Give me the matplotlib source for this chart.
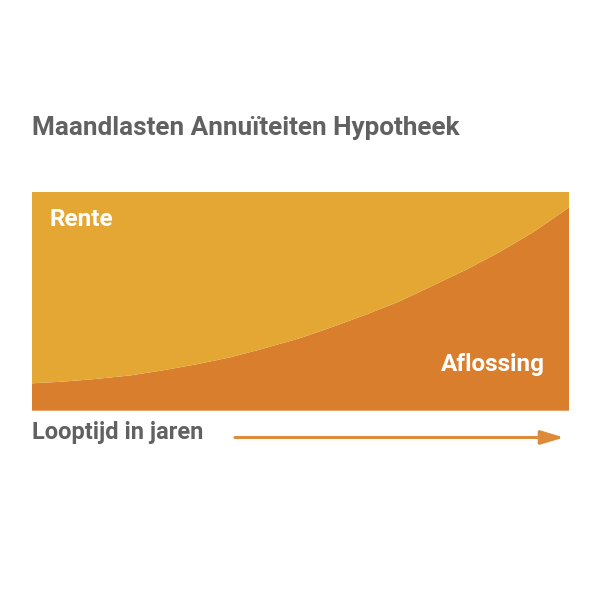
import matplotlib
matplotlib.use("Agg")
import matplotlib.pyplot as plt

jaren = [0, 1.8, 3.6, 5.5, 7.3, 9.2, 11.1, 12.9, 15.0, 16.8, 18.7, 20.6, 22.4, 24.3, 26.1, 28.0, 30]
aflossing = [12.5, 13.3, 14.5, 16.1, 18.4, 21.2, 24.4, 28.3, 33.2, 38.3, 44.0, 50.2, 57.2, 64.6, 72.4, 81.6, 92.9]
rente = [100 - a for a in aflossing]

C_RENTE = "#E4A733"
C_AFLOS = "#D97E2C"
C_TEXT = "#616161"
C_ARROW = "#DD8A3B"

plt.rcParams["font.family"] = ["Roboto", "DejaVu Sans"]

fig = plt.figure(figsize=(6, 6), dpi=100)
ax = fig.add_axes([31.7 / 600, (600 - 410.7) / 600, 537.6 / 600, 219 / 600])
ax.stackplot(jaren, aflossing, rente, colors=[C_AFLOS, C_RENTE], lw=0)
ax.set_xlim(0, 30)
ax.set_ylim(0, 100)
ax.axis("off")

ax.text(0.034, 0.872, "Rente", transform=ax.transAxes, color="white",
        fontsize=17.5, fontweight="bold", va="center", ha="left")
ax.text(0.954, 0.212, "Aflossing", transform=ax.transAxes, color="white",
        fontsize=17.5, fontweight="bold", va="center", ha="right")

fig.text(32 / 600, 1 - 128.5 / 600, "Maandlasten Annuïteiten Hypotheek", color=C_TEXT,
         fontsize=18.8, fontweight="bold", va="center", ha="left")
fig.text(32 / 600, 1 - 432.5 / 600, "Looptijd in jaren", color=C_TEXT,
         fontsize=17, fontweight="bold", va="center", ha="left")

fig.patches.append(matplotlib.patches.FancyArrowPatch(
    (235 / 600, 1 - 437.5 / 600), (564 / 600, 1 - 437.5 / 600), transform=fig.transFigure,
    arrowstyle="-|>,head_length=14,head_width=4.2", mutation_scale=1, lw=2.2,
    color=C_ARROW, shrinkA=0, shrinkB=0))

fig.savefig("out.png", dpi=100, facecolor="white")
